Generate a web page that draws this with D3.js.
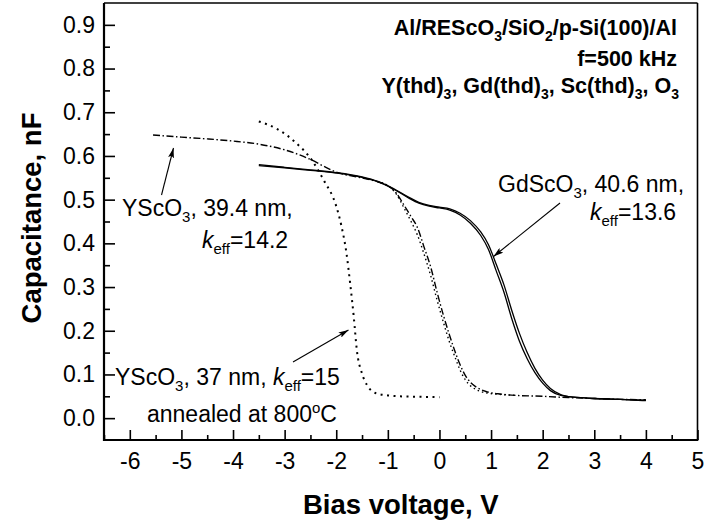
<!DOCTYPE html>
<html>
<head>
<meta charset="utf-8">
<script src="https://cdn.jsdelivr.net/npm/d3@7"></script>
<style>
  html, body { margin: 0; padding: 0; background: #fff; }
  svg { display: block; font-family: "Liberation Sans", Arial, sans-serif; }
</style>
</head>
<body>
<script>
// ---------- data ----------
const xMajorTicks = [-6, -5, -4, -3, -2, -1, 0, 1, 2, 3, 4, 5];
const xMinorTicks = [-6.5, -5.5, -4.5, -3.5, -2.5, -1.5, -0.5, 0.5, 1.5, 2.5, 3.5, 4.5];
const yMajorTicks = [0.0, 0.1, 0.2, 0.3, 0.4, 0.5, 0.6, 0.7, 0.8, 0.9];
const yMinorTicks = [0.05, 0.15, 0.25, 0.35, 0.45, 0.55, 0.65, 0.75, 0.85];

// GdScO3, 40.6 nm (two sweeps, solid)
const gdSweep1 = [
  [-3.5, 0.578], [-3.0, 0.573], [-2.5, 0.567], [-2.0, 0.561], [-1.5, 0.551],
  [-1.2, 0.541], [-0.9, 0.525], [-0.6, 0.504], [-0.4, 0.492], [-0.2, 0.485],
  [0.0, 0.481], [0.2, 0.476], [0.4, 0.465], [0.6, 0.446], [0.8, 0.418],
  [0.95, 0.386], [1.1, 0.337], [1.25, 0.288], [1.4, 0.228], [1.55, 0.176],
  [1.7, 0.136], [1.85, 0.104], [2.0, 0.080], [2.15, 0.063], [2.35, 0.052],
  [2.6, 0.048], [3.0, 0.045], [3.5, 0.043], [4.0, 0.041]
];
const gdSweep2 = [
  [-3.5, 0.580], [-3.0, 0.574], [-2.5, 0.568], [-2.0, 0.562], [-1.5, 0.552],
  [-1.2, 0.542], [-0.9, 0.526], [-0.6, 0.506], [-0.4, 0.494], [-0.2, 0.487],
  [0.0, 0.483], [0.2, 0.479], [0.4, 0.469], [0.6, 0.452], [0.8, 0.426],
  [0.95, 0.397], [1.1, 0.352], [1.25, 0.305], [1.4, 0.247], [1.55, 0.194],
  [1.7, 0.150], [1.85, 0.114], [2.0, 0.087], [2.15, 0.068], [2.35, 0.054],
  [2.6, 0.048], [3.0, 0.045], [3.5, 0.043], [4.0, 0.040]
];

// YScO3, 39.4 nm (dash-dot, plus dotted return sweep in the drop)
const y394Sweep1 = [
  [-5.55, 0.648], [-5.0, 0.643], [-4.5, 0.639], [-4.0, 0.634], [-3.5, 0.627],
  [-3.0, 0.614], [-2.5, 0.592], [-2.2, 0.574], [-2.0, 0.563], [-1.6, 0.552],
  [-1.2, 0.541], [-1.0, 0.532], [-0.85, 0.517], [-0.7, 0.490], [-0.55, 0.461],
  [-0.43, 0.437], [-0.3, 0.392], [-0.17, 0.346], [-0.05, 0.290], [0.08, 0.234],
  [0.2, 0.188], [0.3, 0.153], [0.4, 0.122], [0.5, 0.098], [0.6, 0.082],
  [0.7, 0.072], [0.9, 0.061], [1.2, 0.055], [1.5, 0.052], [2.0, 0.050],
  [2.5, 0.047], [3.0, 0.045], [3.5, 0.043], [4.0, 0.042]
];
const y394Sweep2 = [
  [-1.2, 0.542], [-1.0, 0.532], [-0.85, 0.515], [-0.7, 0.484], [-0.55, 0.450],
  [-0.43, 0.420], [-0.3, 0.376], [-0.17, 0.326], [-0.05, 0.272], [0.08, 0.218],
  [0.2, 0.172], [0.3, 0.140], [0.4, 0.110], [0.5, 0.088], [0.6, 0.074],
  [0.7, 0.066], [0.9, 0.058], [1.2, 0.054], [1.5, 0.052]
];

// YScO3, 37 nm, annealed at 800 C (dotted)
const y37 = [
  [-3.5, 0.679], [-3.15, 0.662], [-2.8, 0.632], [-2.47, 0.590], [-2.24, 0.544],
  [-2.0, 0.485], [-1.9, 0.440], [-1.8, 0.376], [-1.73, 0.308], [-1.66, 0.231],
  [-1.6, 0.155], [-1.5, 0.102], [-1.4, 0.075], [-1.21, 0.056], [-1.0, 0.052],
  [-0.76, 0.050], [-0.4, 0.049], [0.0, 0.048]
];

// ---------- chart ----------
const W = 705, H = 524;
const pL = 104, pR = 697.5, pT = 3, pB = 440;

const svg = d3.select("body").append("svg").attr("width", W).attr("height", H);

const x = d3.scaleLinear().domain([-6.5, 5]).range([pL, pR]);
const y = d3.scaleLinear().domain([-0.05, 0.95]).range([pB, pT]);

// axes
const xAxisMajor = d3.axisBottom(x).tickValues(xMajorTicks).tickSize(-10).tickPadding(13)
  .tickFormat(d => String(d));
const xAxisMinor = d3.axisBottom(x).tickValues(xMinorTicks).tickSize(-5).tickFormat("");
const yAxisMajor = d3.axisLeft(y).tickValues(yMajorTicks).tickSize(-11).tickPadding(9)
  .tickFormat(d3.format(".1f"));
const yAxisMinor = d3.axisLeft(y).tickValues(yMinorTicks).tickSize(-6).tickFormat("");

function styleAxis(g) {
  g.select(".domain").remove();
  g.selectAll(".tick line").attr("stroke", "#000").attr("stroke-width", 1.6);
  g.selectAll(".tick text").attr("fill", "#000").attr("font-size", 23)
    .attr("font-family", "Liberation Sans, Arial, sans-serif");
}
svg.append("g").attr("transform", `translate(0,${pB})`).call(xAxisMajor).call(styleAxis);
svg.append("g").attr("transform", `translate(0,${pB})`).call(xAxisMinor).call(styleAxis);
svg.append("g").attr("transform", `translate(${pL},0)`).call(yAxisMajor).call(styleAxis);
svg.append("g").attr("transform", `translate(${pL},0)`).call(yAxisMinor).call(styleAxis);

// frame
svg.append("line").attr("x1", pL).attr("x2", pR).attr("y1", pT).attr("y2", pT)
  .attr("stroke", "#000").attr("stroke-width", 1.6);
svg.append("line").attr("x1", pR).attr("x2", pR).attr("y1", pT).attr("y2", pB)
  .attr("stroke", "#000").attr("stroke-width", 1.6);
svg.append("line").attr("x1", pL).attr("x2", pL).attr("y1", pT).attr("y2", pB + 1)
  .attr("stroke", "#000").attr("stroke-width", 2.2);
svg.append("line").attr("x1", pL - 1).attr("x2", pR + 0.8).attr("y1", pB).attr("y2", pB)
  .attr("stroke", "#000").attr("stroke-width", 2.2);

// curves
const line = d3.line().x(d => x(d[0])).y(d => y(d[1])).curve(d3.curveMonotoneX);
const curves = svg.append("g").attr("fill", "none").attr("stroke", "#000");
curves.append("path").datum(gdSweep1).attr("d", line).attr("stroke-width", 1.3);
curves.append("path").datum(gdSweep2).attr("d", line).attr("stroke-width", 1.3);
curves.append("path").datum(y394Sweep1).attr("d", line).attr("stroke-width", 1.4)
  .attr("stroke-dasharray", "7,2.5,1.5,2.5");
curves.append("path").datum(y394Sweep2).attr("d", line).attr("stroke-width", 1.4)
  .attr("stroke-dasharray", "1.5,3");
curves.append("path").datum(y37).attr("d", line).attr("stroke-width", 2)
  .attr("stroke-dasharray", "2,4.5");

// rich text helper
function rich(x0, y0, parts, opt) {
  const o = Object.assign({ size: 23, weight: "normal", anchor: "start", subSize: 15, subShift: 6 }, opt || {});
  const t = svg.append("text").attr("x", x0).attr("y", y0)
    .attr("font-size", o.size).attr("font-weight", o.weight)
    .attr("text-anchor", o.anchor).attr("fill", "#000");
  let cur = 0;
  parts.forEach(p => {
    const ts = t.append("tspan").text(p.t);
    let target = 0;
    if (p.sub) { target = o.subShift; ts.attr("font-size", o.subSize); }
    if (p.sup) { target = -9; ts.attr("font-size", o.subSize); }
    if (p.it) ts.attr("font-style", "italic");
    if (target !== cur) ts.attr("dy", target - cur);
    cur = target;
  });
  return t;
}

// top-right bold text
const boldOpt = { size: 21.5, weight: "bold", anchor: "end", subSize: 14, subShift: 6 };
rich(677, 35, [{ t: "Al/REScO" }, { t: "3", sub: true }, { t: "/SiO" }, { t: "2", sub: true }, { t: "/p-Si(100)/Al" }], boldOpt);
rich(677, 66, [{ t: "f=500 kHz" }], boldOpt);
rich(679, 93, [{ t: "Y(thd)" }, { t: "3", sub: true }, { t: ", Gd(thd)" }, { t: "3", sub: true },
  { t: ", Sc(thd)" }, { t: "3", sub: true }, { t: ", O" }, { t: "3", sub: true }], boldOpt);

// annotations
rich(122, 216, [{ t: "YScO" }, { t: "3", sub: true }, { t: ", 39.4 nm," }]);
rich(202, 248, [{ t: "k", it: true }, { t: "eff", sub: true }, { t: "=14.2" }]);

rich(498, 191.5, [{ t: "GdScO" }, { t: "3", sub: true }, { t: ", 40.6 nm," }]);
rich(590, 220, [{ t: "k", it: true }, { t: "eff", sub: true }, { t: "=13.6" }]);

rich(115, 385, [{ t: "YScO" }, { t: "3", sub: true }, { t: ", 37 nm, " }, { t: "k", it: true }, { t: "eff", sub: true }, { t: "=15" }]);
rich(147, 422, [{ t: "annealed at 800" }, { t: "o", sup: true }, { t: "C" }]);

// arrows
const defs = svg.append("defs");
defs.append("marker").attr("id", "ah").attr("viewBox", "0 0 10 6")
  .attr("refX", 10).attr("refY", 3).attr("markerWidth", 10).attr("markerHeight", 6)
  .attr("markerUnits", "userSpaceOnUse").attr("orient", "auto")
  .append("path").attr("d", "M0,0 L10,3 L0,6 L2,3 Z").attr("fill", "#000");
function arrow(x1, y1, x2, y2) {
  svg.append("line").attr("x1", x1).attr("y1", y1).attr("x2", x2).attr("y2", y2)
    .attr("stroke", "#000").attr("stroke-width", 1.1).attr("marker-end", "url(#ah)");
}
arrow(161.5, 195, 173.5, 148);
arrow(293, 362, 348.5, 330);
arrow(560, 203, 493.5, 256.5);

// axis titles
svg.append("text").attr("x", (pL + pR) / 2).attr("y", 514).attr("text-anchor", "middle")
  .attr("font-size", 27.5).attr("font-weight", "bold").attr("fill", "#000").text("Bias voltage, V");
svg.append("text").attr("transform", "translate(41,218) rotate(-90)").attr("text-anchor", "middle")
  .attr("font-size", 27.5).attr("font-weight", "bold").attr("fill", "#000").text("Capacitance, nF");
</script>
</body>
</html>
